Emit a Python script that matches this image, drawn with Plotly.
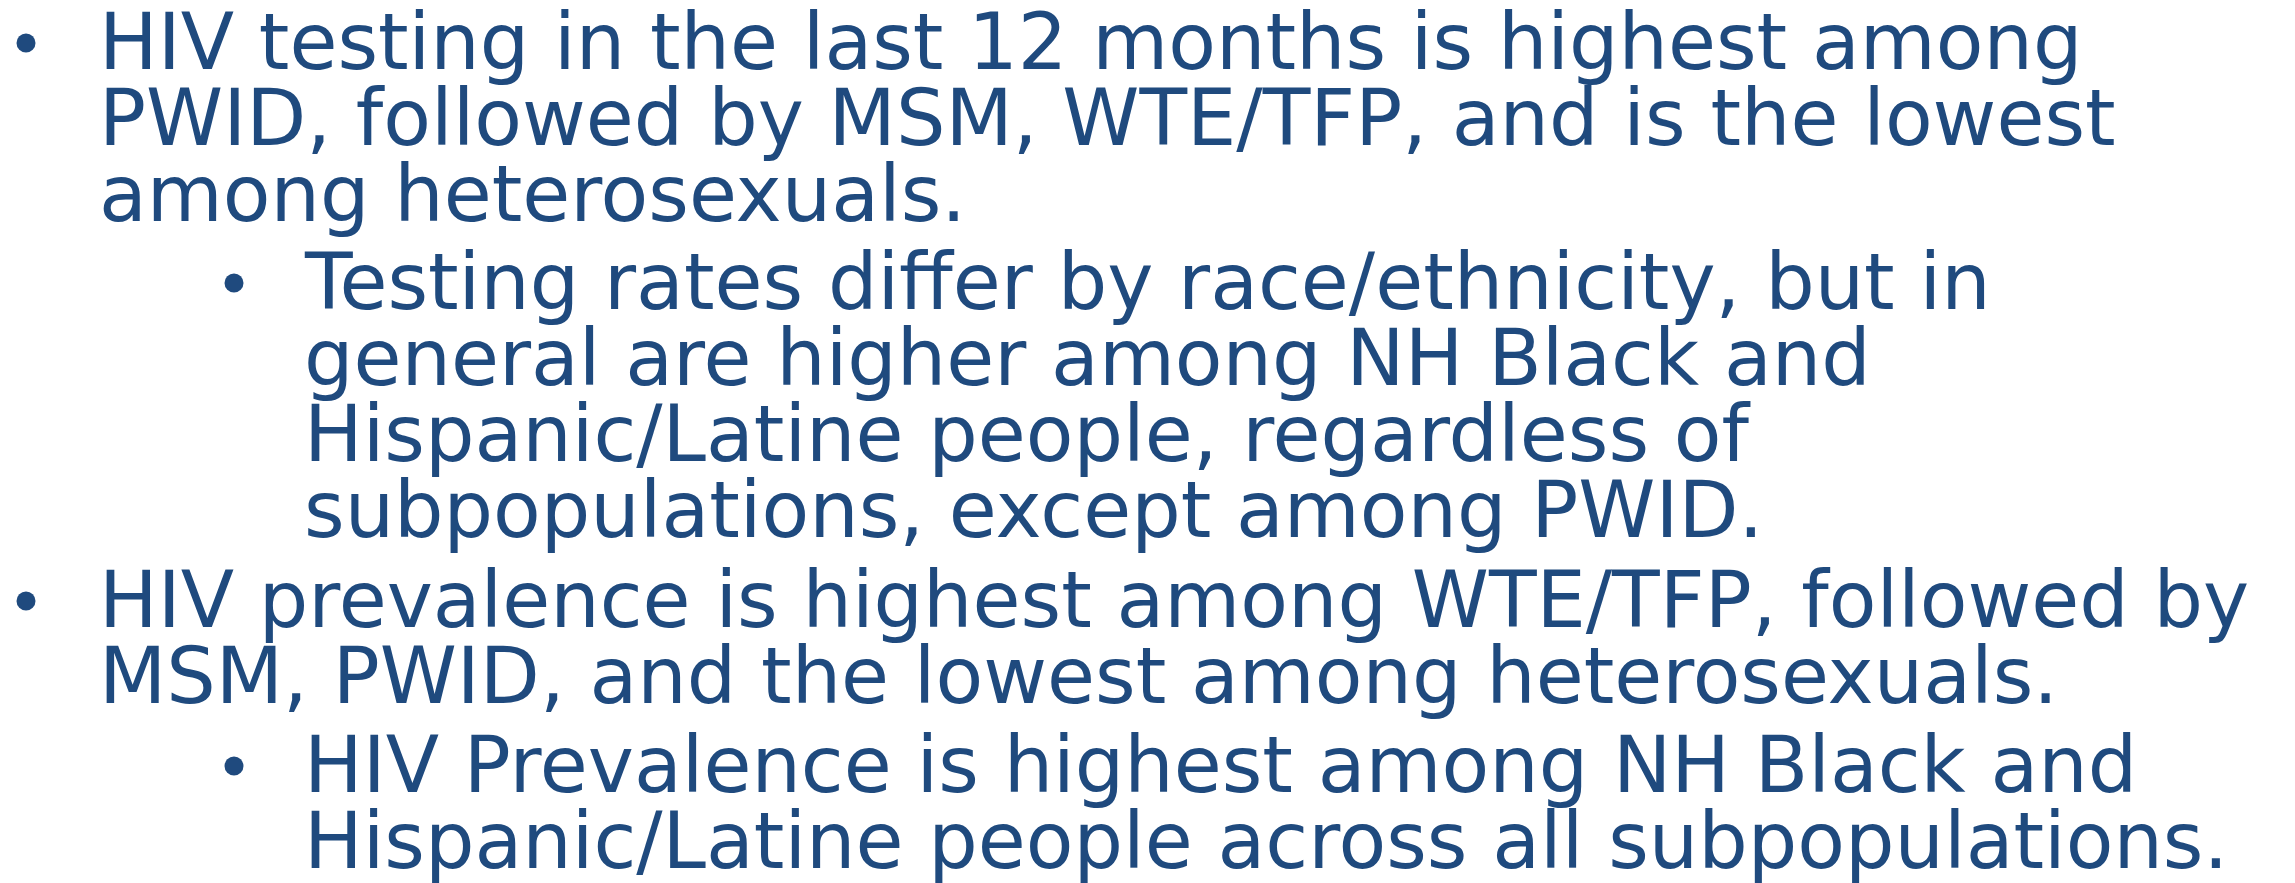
import plotly.graph_objects as go

W, H = 2295, 883
TEXT_COLOR = "#1F4A7E"
FONT_FAMILY = "DejaVu Sans"
FONT_SIZE = 78

# Slide content: bullet level and wrapped lines of each paragraph
levels = [1, 2, 1, 2]
paragraphs = [
    ["HIV testing in the last 12 months is highest among",
     "PWID, followed by MSM, WTE/TFP, and is the lowest",
     "among heterosexuals."],
    ["Testing rates differ by race/ethnicity, but in",
     "general are higher among NH Black and",
     "Hispanic/Latine people, regardless of",
     "subpopulations, except among PWID."],
    ["HIV prevalence is highest among WTE/TFP, followed by",
     "MSM, PWID, and the lowest among heterosexuals."],
    ["HIV Prevalence is highest among NH Black and",
     "Hispanic/Latine people across all subpopulations."],
]

# layout (pixels)
first_baselines = [70, 310, 628, 793]
LINE_PITCH = 76
BULLET_X = {1: 26, 2: 234}
TEXT_X = {1: 97, 2: 302}
BULLET_ABOVE_BASELINE = 27
MID_ABOVE_BASELINE = 0.36 * FONT_SIZE

fig = go.Figure()

bx, by = [], []
annotations = []
for lvl, lines, b0 in zip(levels, paragraphs, first_baselines):
    bx.append(BULLET_X[lvl])
    by.append(b0 - BULLET_ABOVE_BASELINE)
    for i, line in enumerate(lines):
        base = b0 + i * LINE_PITCH
        annotations.append(dict(
            x=TEXT_X[lvl], y=base - MID_ABOVE_BASELINE, xref="x", yref="y",
            text=line, showarrow=False, xanchor="left", yanchor="middle",
            align="left", font=dict(family=FONT_FAMILY, size=FONT_SIZE, color=TEXT_COLOR),
        ))

fig.add_trace(go.Scatter(
    x=bx, y=by, mode="markers", hoverinfo="skip",
    marker=dict(size=19, color=TEXT_COLOR, line=dict(width=0)),
))

fig.update_layout(
    width=W, height=H, margin=dict(l=0, r=0, t=0, b=0),
    paper_bgcolor="white", plot_bgcolor="white", showlegend=False,
    annotations=annotations,
    xaxis=dict(range=[0, W], visible=False, fixedrange=True),
    yaxis=dict(range=[H, 0], visible=False, fixedrange=True),
)

fig.write_html("out.html", config={"displayModeBar": False},
               post_script="document.body.style.margin='0';")
